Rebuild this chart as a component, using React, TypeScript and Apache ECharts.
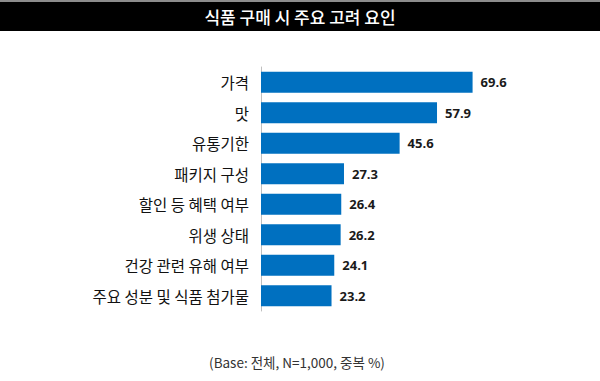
import React, { useEffect, useRef } from "react";
import * as echarts from "echarts";

const categories = [
  "가격",
  "맛",
  "유통기한",
  "패키지 구성",
  "할인 등 혜택 여부",
  "위생 상태",
  "건강 관련 유해 여부",
  "주요 성분 및 식품 첨가물",
];
const values = [69.6, 57.9, 45.6, 27.3, 26.4, 26.2, 24.1, 23.2];
const titleText = "식품 구매 시 주요 고려 요인";
const footText = "(Base: 전체, N=1,000, 중복 %)";

export default function App() {
  const ref = useRef<HTMLDivElement>(null);
  useEffect(() => {
    if (!ref.current) return;
    const chart = echarts.init(ref.current, null, { renderer: "svg" });
    chart.setOption({
      animation: false,
      backgroundColor: "#ffffff",
      graphic: [
        { type: "rect", shape: { x: 0, y: 0, width: 600, height: 2 }, style: { fill: "#8c8c8c" } },
        { type: "rect", shape: { x: 0, y: 2, width: 600, height: 29 }, style: { fill: "#000000" } },
        {
          type: "text",
          x: 300,
          y: 16.5,
          style: {
            text: titleText,
            fill: "#ffffff",
            font: "500 17px 'Noto Sans CJK KR', sans-serif",
            align: "center",
            verticalAlign: "middle",
          },
        },
        {
          type: "text",
          x: 297,
          y: 362,
          style: {
            text: footText,
            fill: "#333333",
            font: "13.5px 'Noto Sans CJK KR', sans-serif",
            align: "center",
            verticalAlign: "middle",
          },
        },
      ],
      grid: { left: 261, top: 67, width: 304, height: 244, containLabel: false },
      xAxis: {
        type: "value",
        min: 0,
        max: 100,
        show: false,
      },
      yAxis: {
        type: "category",
        inverse: true,
        data: categories,
        axisLine: { show: true, lineStyle: { color: "#bfbfbf", width: 1 } },
        axisTick: { show: false },
        axisLabel: {
          color: "#111111",
          fontSize: 15.5,
          fontFamily: "'Noto Sans CJK KR', sans-serif",
          margin: 12,
        },
      },
      series: [
        {
          type: "bar",
          data: values,
          barWidth: 21,
          itemStyle: { color: "#0070C0" },
          label: {
            show: true,
            position: "right",
            distance: 8,
            color: "#1a1a1a",
            fontSize: 13,
            fontWeight: "bold",
            fontFamily: "'Open Sans', sans-serif",
            formatter: (p: any) => p.value.toFixed(1),
          },
        },
      ],
    });
    return () => chart.dispose();
  }, []);
  return <div ref={ref} style={{ width: 600, height: 381, position: "absolute", left: 0, top: 0 }} />;
}
